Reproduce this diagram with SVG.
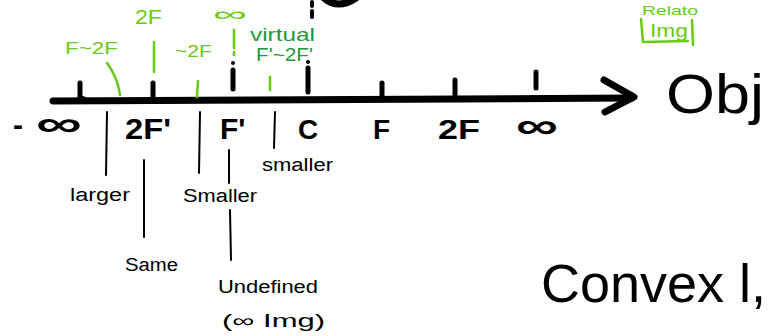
<svg xmlns="http://www.w3.org/2000/svg" width="777" height="336" viewBox="0 0 777 336">
<style>
.k{stroke:#000;fill:none;stroke-linecap:round;stroke-linejoin:round}
.g{stroke:#66cc11;fill:none;stroke-linecap:round;stroke-width:2.5}
.t{font-family:"Liberation Sans",Arial,sans-serif;fill:#000}
.b{font-weight:bold}
.gt{font-family:"Liberation Sans",Arial,sans-serif;fill:#66cc11}
.dgt{font-family:"Liberation Sans",Arial,sans-serif;fill:#1a9a3a}
</style>
<rect width="777" height="336" fill="#fff"/>
<g id="axis">
<path class="k" stroke-width="7" d="M53 101 L632 98"/>
<path class="k" stroke-width="7" d="M604 80 L634 97 L605 112"/>
<g stroke-width="5" class="k">
<path d="M80 83 L80 98 L84 99"/>
<path d="M153 83 L153 99"/>
<path d="M233 70 L233 89"/>
<path d="M308 68 L308 92"/>
<path d="M382 83 L382 98"/>
<path d="M455 80 L455 97"/>
<path d="M536 72 L536 88"/>
</g>
<g fill="#000">
<circle cx="233" cy="63" r="2"/>
<circle cx="308" cy="62" r="2"/>
</g>
<path class="k" stroke-width="4" d="M312 2 L312 6 M312 11 L312 17"/>
<path class="k" stroke-width="7" d="M324 -2 Q338 10 356 -2"/>
</g>
<g id="axis-labels" class="t b">
<text x="13" y="135" font-size="30">-</text>
<text x="36" y="136" font-size="36" textLength="46" lengthAdjust="spacingAndGlyphs">∞</text>
<text x="125" y="139" font-size="30" textLength="46" lengthAdjust="spacingAndGlyphs">2F'</text>
<text x="220" y="139" font-size="30">F'</text>
<text x="298" y="139" font-size="28">C</text>
<text x="373" y="139" font-size="28">F</text>
<text x="438" y="139" font-size="28" textLength="42" lengthAdjust="spacingAndGlyphs">2F</text>
<text x="516" y="138" font-size="36" textLength="42" lengthAdjust="spacingAndGlyphs">∞</text>
</g>
<g id="green-notes">
<text class="gt" x="135" y="24" font-size="21" textLength="27" lengthAdjust="spacingAndGlyphs">2F</text>
<text class="gt" x="213" y="21" font-size="20" textLength="34" lengthAdjust="spacingAndGlyphs">∞</text>
<text class="gt" x="65" y="54" font-size="17" textLength="53" lengthAdjust="spacingAndGlyphs">F~2F</text>
<path class="g" d="M107 63 Q118 78 120 95"/>
<path class="g" d="M154 42 L154 72"/>
<text class="gt" x="175" y="57" font-size="17" textLength="37" lengthAdjust="spacingAndGlyphs">~2F</text>
<path class="g" d="M198 81 L197 97"/>
<path class="g" d="M234 30 L234 48 M234 52 L234 55"/>
<text class="dgt" x="250" y="41" font-size="19" textLength="65" lengthAdjust="spacingAndGlyphs">virtual</text>
<text class="dgt" x="256" y="61" font-size="18" textLength="57" lengthAdjust="spacingAndGlyphs">F'~2F'</text>
<path class="g" d="M270 77 L270 90"/>
<text class="gt" x="642" y="15" font-size="13" textLength="56" lengthAdjust="spacingAndGlyphs">Relato</text>
<path class="g" d="M641 19 L643 42 L688 41 M692 20 L693 45"/>
<text class="gt" x="650" y="37" font-size="18" textLength="38" lengthAdjust="spacingAndGlyphs">Img</text>
</g>
<g id="obj">
<text class="t" x="666" y="113" font-size="56" textLength="98" lengthAdjust="spacingAndGlyphs">Obj</text>
</g>
<g id="below-lines" class="k" stroke-width="2">
<path d="M107 112 L106 175"/>
<path d="M200 112 L199 173"/>
<path d="M144 160 L144 237"/>
<path d="M229 150 L229 183"/>
<path d="M230 210 L231 260"/>
<path d="M275 112 L274 148"/>
</g>
<g id="below-text" class="t" font-size="18">
<text x="70" y="201" textLength="60" lengthAdjust="spacingAndGlyphs">larger</text>
<text x="125" y="271" textLength="53" lengthAdjust="spacingAndGlyphs">Same</text>
<text x="183" y="202" textLength="74" lengthAdjust="spacingAndGlyphs">Smaller</text>
<text x="262" y="171" textLength="71" lengthAdjust="spacingAndGlyphs">smaller</text>
<text x="218" y="293" textLength="100" lengthAdjust="spacingAndGlyphs">Undefined</text>
<text x="222" y="327" textLength="103" lengthAdjust="spacingAndGlyphs">(∞ Img)</text>
</g>
<g id="convex">
<text class="t" x="541" y="302" font-size="54">Convex l,</text>
</g>
</svg>
